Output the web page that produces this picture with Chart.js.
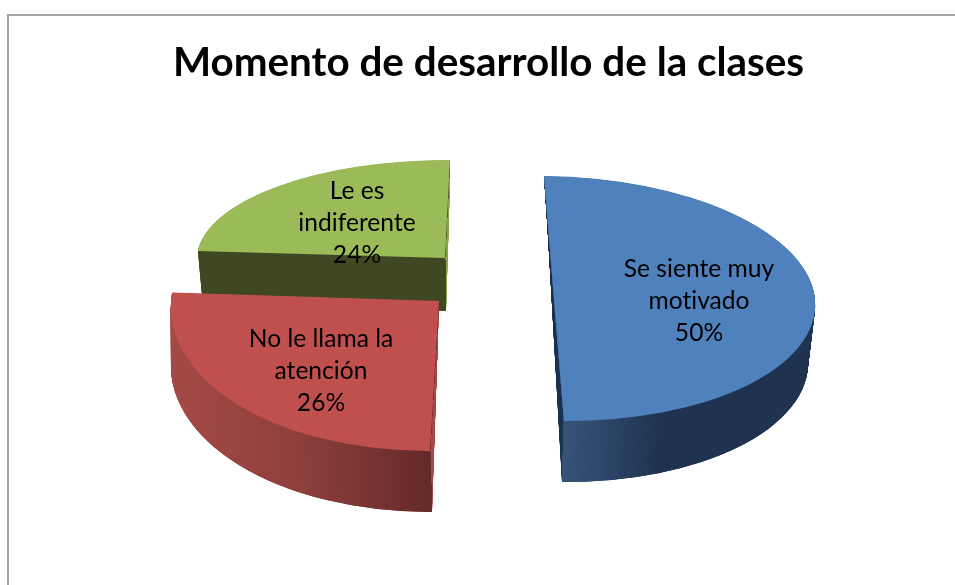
<!DOCTYPE html>
<html lang="es">
<head>
<meta charset="utf-8">
<title>Momento de desarrollo de la clases</title>
<script src="https://cdn.jsdelivr.net/npm/chart.js@4/dist/chart.umd.min.js"></script>
<style>
  html,body{margin:0;padding:0;background:#fff;overflow:hidden}
  #stage{position:relative;width:955px;height:585px;overflow:hidden}
  #frame{position:absolute;left:7px;top:14px;right:-10px;bottom:0;border-left:2px solid #a3a3a3;border-top:2px solid #a3a3a3}
  canvas{position:absolute;left:0;top:0}
</style>
</head>
<body>
<div id="stage"><div id="frame"></div><canvas id="c" width="955" height="585"></canvas></div>
<script>
const titleText = 'Momento de desarrollo de la clases';
const categories = ['Se siente muy motivado', 'No le llama la atención', 'Le es indiferente'];
const values = [50, 26, 24];
const labelLines = [['Se siente muy', 'motivado'], ['No le llama la', 'atención'], ['Le es', 'indiferente']];
const topColors = ['#4f81bd', '#c0504d', '#9bbb59'];
const edgeColors = ['#1f3552', '#a84c49', '#8aa64e'];
const wallStops = [
  [[0.5, '#36537a'], [0.69, '#1f3350'], [1, '#1f3350']],
  [[0, '#a44a46'], [0.25, '#8f3f3c'], [0.5, '#632a29']],
  [[0, '#3f4823'], [1, '#3f4823']]
];

// Oblique view of each exploded slice: top and bottom face of the extrusion.
const views = [
  { top: {c:[554,298.5], r:[261,1.5], u:[-10,-122.5]}, bot: {c:[555,358], r:[253,1.5], u:[-7,-124]}, side: 1,
    cut: (t,b) => [add(t.c,t.u), sub(t.c,t.u), sub(b.c,b.u)], label: [699,268] },
  { top: {c:[439,301], r:[268,-1], u:[9,-150]}, bot: {c:[437,362], r:[266,-1], u:[5,-150]}, side: -1,
    cut: (t,b) => [t.c, sub(t.c,t.u), sub(b.c,b.u)], label: [321,338] },
  { top: {c:[445,258], r:[248,0.8], u:[5,-98]}, bot: {c:[446,311], r:[244,0.8], u:[3,-98]}, side: -1,
    cut: (t,b) => [add(t.c,t.u), t.c, b.c], label: [357,190] }
];
const drawOrder = [2, 0, 1];
const labelFont = '24.6px Lato, Carlito, sans-serif';
const labelLeading = 32;

function add(p,q){return [p[0]+q[0],p[1]+q[1]];}
function sub(p,q){return [p[0]-q[0],p[1]-q[1]];}
function mix(p,q,k){return [p[0]+(q[0]-p[0])*k,p[1]+(q[1]-p[1])*k];}

function drawFace(ctx, arc, face, fill){
  const rad = arc.outerRadius;
  const a = face.r[0]/rad, b = face.r[1]/rad, c = -face.u[0]/rad, d = -face.u[1]/rad;
  ctx.save();
  ctx.transform(a, b, c, d, face.c[0]-a*arc.x-c*arc.y, face.c[1]-b*arc.x-d*arc.y);
  const view = Object.create(arc);
  view.options = {backgroundColor: fill, borderColor: fill, borderWidth: 0, borderAlign: 'center',
    borderRadius: 0, offset: 0, spacing: 0, circular: true, borderJoinStyle: 'round'};
  view.draw(ctx);
  ctx.restore();
}

function drawWalls(ctx, arc, v, fill){
  const steps = Math.ceil(Math.abs(v.bot.c[1]-v.top.c[1]))*2;
  for(let s = steps; s > 0; s--){
    const k = s/steps;
    drawFace(ctx, arc, {c: mix(v.top.c,v.bot.c,k), r: mix(v.top.r,v.bot.r,k), u: mix(v.top.u,v.bot.u,k)}, fill);
  }
}

const tiltedPie = {
  id: 'tiltedPie',
  beforeDatasetDraw(chart, args){
    const ctx = chart.ctx;
    const arcs = chart.getDatasetMeta(args.index).data;
    drawOrder.forEach(i => {
      const arc = arcs[i], v = views[i];
      drawWalls(ctx, arc, v, edgeColors[i]);
      const g = ctx.createLinearGradient(arc.x-arc.outerRadius, 0, arc.x+arc.outerRadius, 0);
      wallStops[i].forEach(st => g.addColorStop(st[0], st[1]));
      const pts = v.cut(v.top, v.bot);
      ctx.save();
      ctx.beginPath();
      ctx.moveTo(pts[0][0], pts[0][1]-400);
      pts.forEach(p => ctx.lineTo(p[0], p[1]));
      ctx.lineTo(pts[2][0], pts[2][1]+400);
      ctx.lineTo(pts[2][0]+v.side*1500, pts[2][1]+400);
      ctx.lineTo(pts[0][0]+v.side*1500, pts[0][1]-400);
      ctx.closePath();
      ctx.clip();
      drawWalls(ctx, arc, v, g);
      ctx.restore();
      drawFace(ctx, arc, v.top, topColors[i]);
    });
    const total = values.reduce((s,x)=>s+x,0);
    ctx.save();
    ctx.fillStyle = '#000';
    ctx.font = labelFont;
    if ('letterSpacing' in ctx) ctx.letterSpacing = '0.01px';
    ctx.textAlign = 'center';
    ctx.textBaseline = 'middle';
    values.forEach((val,i) => {
      const lines = labelLines[i].concat(Math.round(val/total*100)+'%');
      lines.forEach((t,n) => ctx.fillText(t, views[i].label[0], views[i].label[1]+1+n*labelLeading));
    });
    ctx.restore();
    return false;
  }
};

new Chart(document.getElementById('c'), {
  type: 'pie',
  data: { labels: categories, datasets: [{ data: values, backgroundColor: topColors, borderWidth: 0 }] },
  options: {
    responsive: false,
    animation: false,
    layout: { padding: { left: 22, top: 0, bottom: 0 } },
    plugins: {
      legend: { display: false },
      tooltip: { enabled: false },
      title: { display: true, text: titleText, color: '#000',
        font: { family: 'Lato, Carlito, sans-serif', size: 40.4, weight: 'bold' },
        padding: { top: 39, bottom: 10 } }
    }
  },
  plugins: [tiltedPie]
});
</script>
</body>
</html>
